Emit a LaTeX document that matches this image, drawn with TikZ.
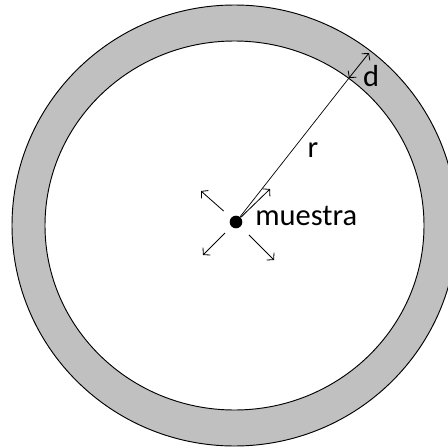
\documentclass[tikz,border=0pt]{standalone}
\usepackage{fontspec}
\setmainfont{Carlito}
\usetikzlibrary{arrows.meta, positioning}
\definecolor{ringgray}{HTML}{C0C0C0}

\begin{document}
\begin{tikzpicture}[x=0.03cm, y=-0.03cm,
    ring/.style={draw=black, line width=0.8pt},
    arr/.style={-{Straight Barb[length=4pt, width=9pt]}, line width=0.7pt},
    dim/.style={{Straight Barb[length=4pt, width=9pt]}-{Straight Barb[length=4pt, width=9pt]}, line width=0.7pt},
    lbl/.style={font=\fontsize{26}{30}\selectfont, inner sep=1pt}
  ]
    \useasboundingbox (0,0) rectangle (448,448);

    %% ring
    \draw[ring, fill=ringgray] (234.5,225.5) ellipse [x radius=222.5, y radius=220.5];
    \draw[ring, fill=white] (234.5,225.5) ellipse [x radius=189.5, y radius=184.5];

    %% sample
    \node[circle, fill=black, inner sep=0pt, minimum size=0.38cm] (dot) at (236,222) {};
    \node[lbl, anchor=west] (muestra) at (254,216) {muestra};

    \coordinate (nw) at (201,191);
    \coordinate (sw) at (203,255);
    \coordinate (se) at (274,260);
    \coordinate (ne) at (270,189);
    \coordinate (rim) at (349,78);
    \coordinate (out) at (369,53);

    \draw[arr, shorten <=0.3cm] (dot) -- (nw);
    \draw[arr, shorten <=0.27cm] (dot) -- (sw);
    \draw[arr, shorten <=0.35cm] (dot) -- (se);
    \draw[arr] (dot) -- (ne);

    %% radius and thickness
    \draw[line width=0.6pt] (dot) -- (rim);
    \draw[dim] (rim) -- (out);
    \node[lbl] (r) at (313,150) {r};
    \node[lbl] (d) at (371,76) {d};
  \end{tikzpicture}
\end{document}
